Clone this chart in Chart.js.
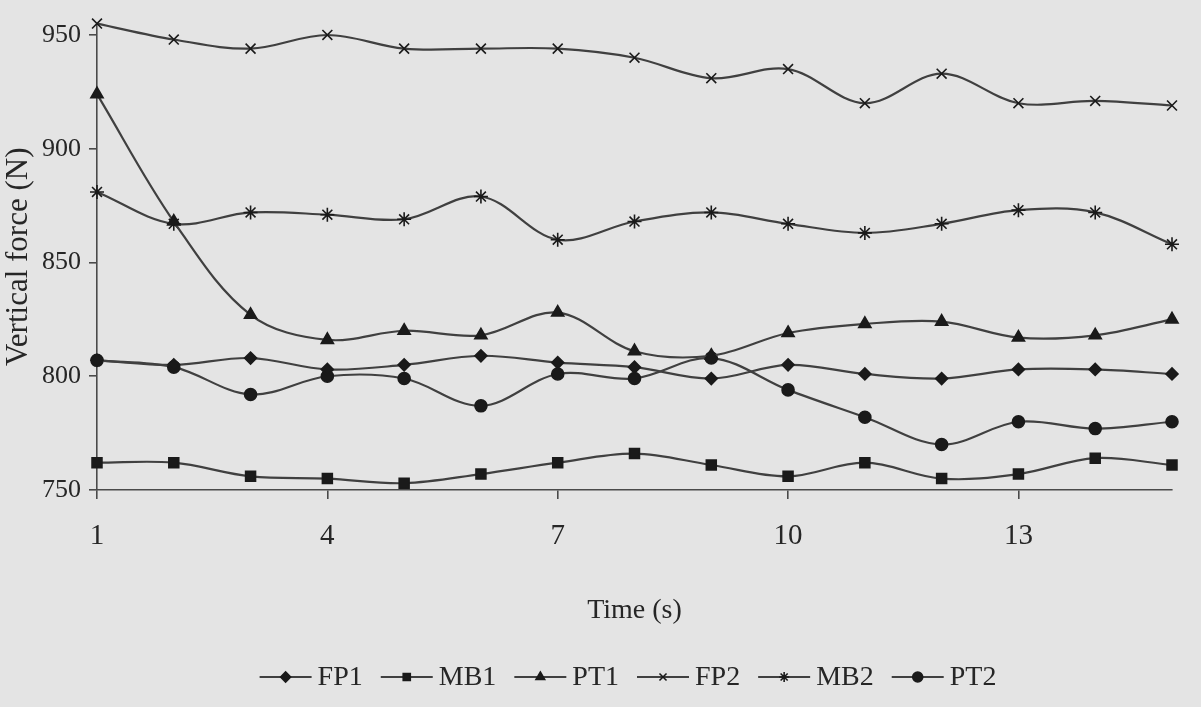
<!DOCTYPE html>
<html>
<head>
<meta charset="utf-8">
<script src="https://cdn.jsdelivr.net/npm/chart.js@4.4.0/dist/chart.umd.min.js"></script>
<style>
  html, body { margin: 0; padding: 0; background: #e4e4e4; }
  #wrap { width: 1201px; height: 707px; }
</style>
</head>
<body>
<div id="wrap"><canvas id="chart" width="1201" height="707"></canvas></div>
<script>
// time in seconds
const times = [1, 2, 3, 4, 5, 6, 7, 8, 9, 10, 11, 12, 13, 14, 15];

// vertical force (N)
const fp1 = [807, 805, 808, 803, 805, 809, 806, 804, 799, 805, 801, 799, 803, 803, 801];
const mb1 = [762, 762, 756, 755, 753, 757, 762, 766, 761, 756, 762, 755, 757, 764, 761];
const pt1 = [924, 868, 827, 816, 820, 818, 828, 811, 809, 819, 823, 824, 817, 818, 825];
const fp2 = [955, 948, 944, 950, 944, 944, 944, 940, 931, 935, 920, 933, 920, 921, 919];
const mb2 = [881, 867, 872, 871, 869, 879, 860, 868, 872, 867, 863, 867, 873, 872, 858];
const pt2 = [807, 804, 792, 800, 799, 787, 801, 799, 808, 794, 782, 770, 780, 777, 780];

const xTicks = [1, 4, 7, 10, 13];
const yTicks = [750, 800, 850, 900, 950];

const lineColor = '#404040';
const markColor = '#1a1a1a';
const textColor = '#262626';
const serif = '"Liberation Serif", "Times New Roman", serif';

function series(label, values, style, radius) {
  return {
    label: label,
    data: values.map((v, i) => ({ x: times[i], y: v })),
    borderColor: lineColor,
    borderWidth: 2.2,
    backgroundColor: markColor,
    pointStyle: style,
    pointRadius: radius,
    pointBackgroundColor: markColor,
    pointBorderColor: markColor,
    pointBorderWidth: 1.6,
    tension: 0.35,
    clip: false
  };
}

const bgPlugin = {
  id: 'pageBg',
  beforeDraw(chart) {
    const ctx = chart.ctx;
    ctx.save();
    ctx.fillStyle = '#e4e4e4';
    ctx.fillRect(0, 0, chart.width, chart.height);
    ctx.restore();
  }
};

// legend with a short line through each marker, like the original
const lineLegend = {
  id: 'lineLegend',
  afterDraw(chart) {
    const ctx = chart.ctx;
    const sets = chart.data.datasets;
    const glyph = 52, gap = 6, spacing = 18, y = 677;
    ctx.save();
    ctx.font = '28px ' + serif;
    ctx.textBaseline = 'middle';
    const widths = sets.map(d => glyph + gap + ctx.measureText(d.label).width);
    const total = widths.reduce((a, b) => a + b, 0) + spacing * (sets.length - 1);
    let x = 628 - total / 2;
    sets.forEach((d, i) => {
      ctx.strokeStyle = lineColor;
      ctx.lineWidth = 2.2;
      ctx.beginPath();
      ctx.moveTo(x, y);
      ctx.lineTo(x + glyph, y);
      ctx.stroke();
      ctx.fillStyle = markColor;
      ctx.strokeStyle = markColor;
      ctx.lineWidth = 1.6;
      Chart.helpers.drawPoint(ctx, { pointStyle: d.pointStyle, radius: 5, borderWidth: 1.6, rotation: 0 }, x + glyph / 2, y);
      ctx.fillStyle = textColor;
      ctx.fillText(d.label, x + glyph + gap, y + 1);
      x += widths[i] + spacing;
    });
    ctx.restore();
  }
};

new Chart(document.getElementById('chart'), {
  type: 'line',
  data: {
    datasets: [
      series('FP1', fp1, 'rectRot', 6),
      series('MB1', mb1, 'rect', 7),
      series('PT1', pt1, 'triangle', 7),
      series('FP2', fp2, 'crossRot', 7),
      series('MB2', mb2, 'star', 7),
      series('PT2', pt2, 'circle', 6)
    ]
  },
  options: {
    responsive: false,
    devicePixelRatio: 1,
    animation: false,
    layout: { padding: { left: 0, right: 29, top: 16, bottom: 77 } },
    plugins: {
      legend: { display: false },
      tooltip: { enabled: false }
    },
    scales: {
      x: {
        type: 'linear',
        min: 1,
        max: 15,
        afterBuildTicks: (axis) => { axis.ticks = xTicks.map(v => ({ value: v })); },
        afterFit: (axis) => { axis.height = 140; },
        grid: { drawOnChartArea: false, drawTicks: true, tickLength: 9, color: '#4a4a4a', lineWidth: 1.6 },
        border: { color: '#4a4a4a', width: 1.6 },
        ticks: { color: textColor, font: { family: serif, size: 29 }, padding: 20, maxRotation: 0 },
        title: { display: true, text: 'Time (s)', color: textColor, font: { family: serif, size: 28 }, padding: { top: 0, bottom: 3 } }
      },
      y: {
        min: 750,
        max: 955,
        afterBuildTicks: (axis) => { axis.ticks = yTicks.map(v => ({ value: v })); },
        afterFit: (axis) => { axis.width = 97; },
        grid: { drawOnChartArea: false, drawTicks: true, tickLength: 8, color: '#4a4a4a', lineWidth: 1.6 },
        border: { color: '#4a4a4a', width: 1.6 },
        ticks: { color: textColor, font: { family: serif, size: 26 }, padding: 8 },
        title: { display: true, text: 'Vertical force (N)', color: textColor, font: { family: serif, size: 31 }, padding: { top: 0, bottom: 0 } }
      }
    }
  },
  plugins: [bgPlugin, lineLegend]
});
</script>
</body>
</html>
